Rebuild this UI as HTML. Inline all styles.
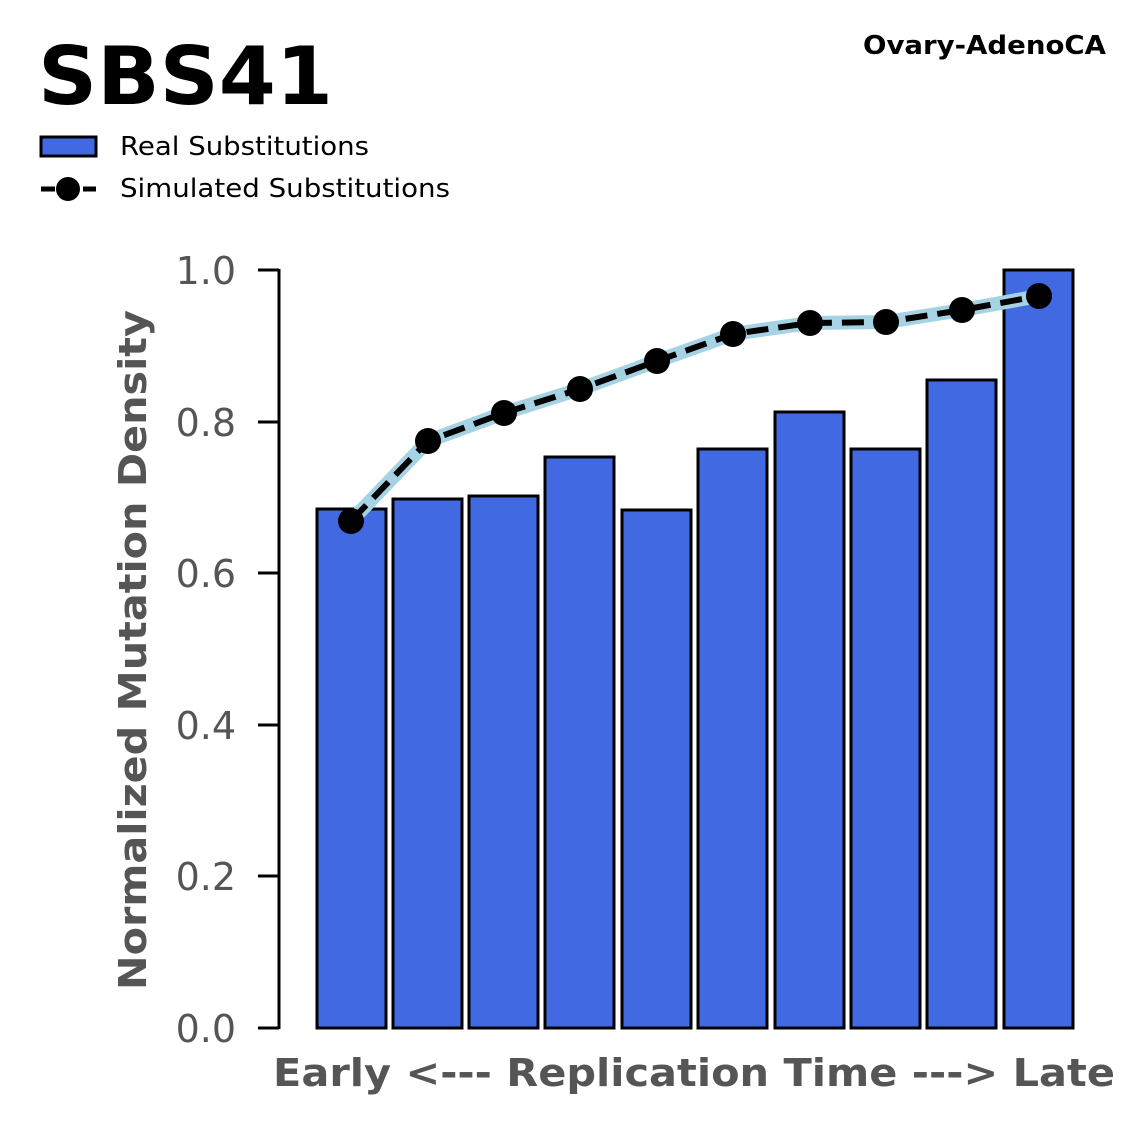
<!DOCTYPE html>
<html><head><style>body{margin:0;background:#fff}svg{display:block}text{font-family:"DejaVu Sans","Liberation Sans",sans-serif}</style></head>
<body>
<svg width="1147" height="1125" viewBox="0 0 1147 1125" xmlns="http://www.w3.org/2000/svg">
<text x="38" y="104" font-size="80" font-weight="bold" fill="#000" textLength="295" lengthAdjust="spacingAndGlyphs">SBS41</text>
<text x="863" y="54" font-size="26" font-weight="bold" fill="#000" textLength="243" lengthAdjust="spacingAndGlyphs">Ovary-AdenoCA</text>
<rect x="41" y="137" width="55" height="19" fill="#4169e1" stroke="#000" stroke-width="3"/>
<text x="120" y="155" font-size="26" fill="#000" textLength="249" lengthAdjust="spacingAndGlyphs">Real Substitutions</text>
<line x1="41" y1="189" x2="96" y2="189" stroke="#000" stroke-width="5" stroke-dasharray="14,7"/>
<circle cx="68" cy="189" r="12" fill="#000"/>
<text x="120" y="197" font-size="26" fill="#000" textLength="330" lengthAdjust="spacingAndGlyphs">Simulated Substitutions</text>
<g stroke="#000" stroke-width="3" fill="#4169e1">
<rect x="317" y="509" width="69" height="519"/>
<rect x="393" y="499" width="69" height="529"/>
<rect x="469" y="496" width="69" height="532"/>
<rect x="545" y="457" width="69" height="571"/>
<rect x="622" y="510" width="69" height="518"/>
<rect x="698" y="449" width="69" height="579"/>
<rect x="775" y="412" width="69" height="616"/>
<rect x="851" y="449" width="69" height="579"/>
<rect x="927" y="380" width="69" height="648"/>
<rect x="1004" y="270" width="69" height="758"/>
</g>
<polyline points="351,521 428,441 504,413 580,389 657,361 733,334 810,323 886,322 962,310 1039,296" fill="none" stroke="#a6d3e3" stroke-width="14" stroke-linejoin="round"/>
<polyline points="351,521 428,441 504,413 580,389 657,361 733,334 810,323 886,322 962,310 1039,296" fill="none" stroke="#000" stroke-width="6" stroke-dasharray="22,10"/>
<g fill="#000">
<circle cx="351" cy="521" r="13"/><circle cx="428" cy="441" r="13"/><circle cx="504" cy="413" r="13"/><circle cx="580" cy="389" r="13"/><circle cx="657" cy="361" r="13"/><circle cx="733" cy="334" r="13"/><circle cx="810" cy="323" r="13"/><circle cx="886" cy="322" r="13"/><circle cx="962" cy="310" r="13"/><circle cx="1039" cy="296" r="13"/>
</g>
<line x1="279" y1="269" x2="279" y2="1029" stroke="#000" stroke-width="3"/>
<g stroke="#000" stroke-width="3">
<line x1="258" y1="1028" x2="279" y2="1028"/><line x1="258" y1="876" x2="279" y2="876"/><line x1="258" y1="725" x2="279" y2="725"/><line x1="258" y1="573" x2="279" y2="573"/><line x1="258" y1="422" x2="279" y2="422"/><line x1="258" y1="270" x2="279" y2="270"/>
</g>
<g font-size="38" fill="#555" text-anchor="end">
<text x="236" y="1042">0.0</text><text x="236" y="890">0.2</text><text x="236" y="739">0.4</text><text x="236" y="587">0.6</text><text x="236" y="436">0.8</text><text x="236" y="284">1.0</text>
</g>
<text x="273" y="1086" font-size="38" font-weight="bold" fill="#555" textLength="842" lengthAdjust="spacingAndGlyphs">Early &lt;--- Replication Time ---&gt; Late</text>
<text transform="translate(146,990) rotate(-90)" font-size="38" font-weight="bold" fill="#555" textLength="680" lengthAdjust="spacingAndGlyphs">Normalized Mutation Density</text>
</svg>
</body></html>
